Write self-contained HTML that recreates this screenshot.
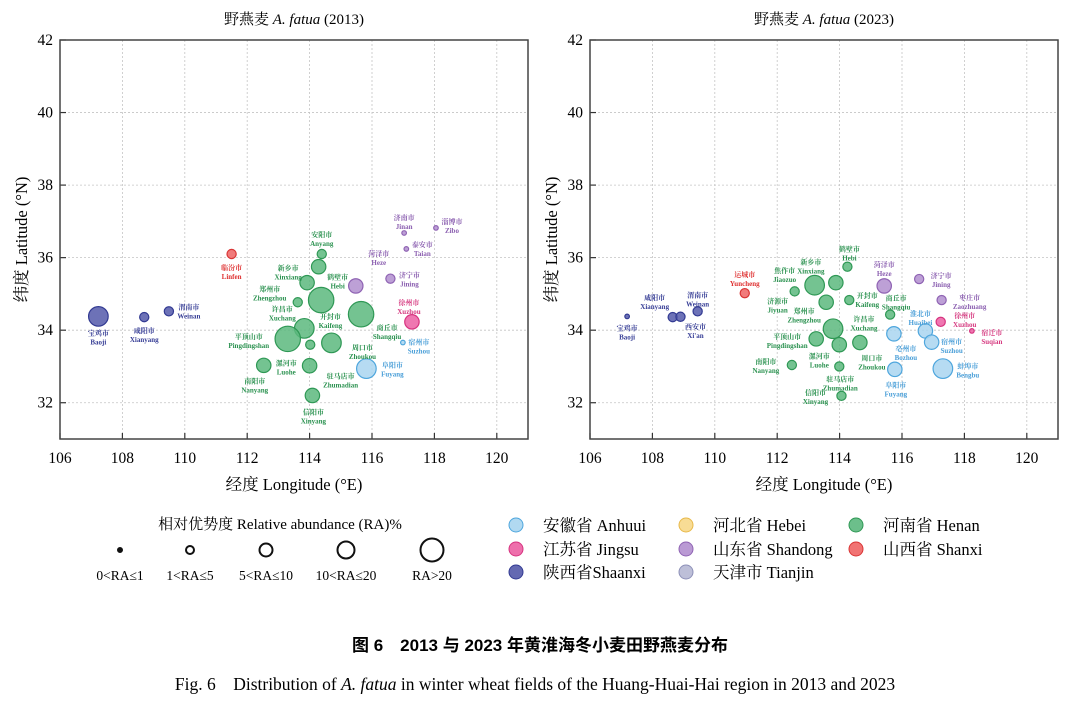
<!DOCTYPE html>
<html><head><meta charset="utf-8">
<style>
html,body{margin:0;padding:0;background:#fff;}
svg{display:block;}
</style></head>
<body>
<svg id="fig" width="1080" height="708" viewBox="0 0 1080 708" xmlns="http://www.w3.org/2000/svg" font-family="Liberation Serif, Noto Serif CJK SC, serif">
<g id="p2013"></g>
<g id="p2023"></g>
<g id="legend"></g>
<text x="540" y="651" text-anchor="middle" font-size="17" font-weight="bold" font-family="Liberation Sans, Noto Sans CJK SC, sans-serif">图 6　2013 与 2023 年黄淮海冬小麦田野燕麦分布</text>
<text x="535" y="690" text-anchor="middle" font-size="17.5">Fig. 6　Distribution of <tspan font-style="italic">A. fatua</tspan> in winter wheat fields of the Huang-Huai-Hai region in 2013 and 2023</text>
</svg>
<script>
// data: [lon, lat, sizeClass(1-5), province, cn, en]
var xTicks = [106,108,110,112,114,116,118,120];
var yTicks = [32,34,36,38,40,42];
var provinces = ['Anhui','Jiangsu','Hebei','Shandong','Shaanxi','Tianjin','Henan','Shanxi'];
var points2013 = [
 [107.23,34.38,4,'Shaanxi','宝鸡市','Baoji'],
 [108.70,34.36,2,'Shaanxi','咸阳市','Xianyang'],
 [109.49,34.52,2,'Shaanxi','渭南市','Weinan'],
 [111.50,36.10,2,'Shanxi','临汾市','Linfen'],
 [114.39,36.10,2,'Henan','安阳市','Anyang'],
 [114.29,35.75,3,'Henan','鹤壁市','Hebi'],
 [113.92,35.31,3,'Henan','新乡市','Xinxiang'],
 [113.62,34.77,2,'Henan','郑州市','Zhengzhou'],
 [114.37,34.83,5,'Henan','',''],
 [113.83,34.05,4,'Henan','许昌市','Xuchang'],
 [113.30,33.76,5,'Henan','平顶山市','Pingdingshan'],
 [114.02,33.60,2,'Henan','漯河市','Luohe'],
 [114.70,33.65,4,'Henan','开封市','Kaifeng'],
 [115.65,34.44,5,'Henan','商丘市','Shangqiu'],
 [115.48,35.22,3,'Shandong','菏泽市','Heze'],
 [116.59,35.42,2,'Shandong','济宁市','Jining'],
 [117.03,36.68,1,'Shandong','济南市','Jinan'],
 [118.05,36.82,1,'Shandong','淄博市','Zibo'],
 [117.10,36.24,1,'Shandong','泰安市','Taian'],
 [117.28,34.23,3,'Jiangsu','徐州市','Xuzhou'],
 [116.99,33.66,1,'Anhui','宿州市','Suzhou'],
 [115.82,32.94,4,'Anhui','阜阳市','Fuyang'],
 [114.00,33.02,3,'Henan','驻马店市','Zhumadian'],
 [112.53,33.03,3,'Henan','南阳市','Nanyang'],
 [114.09,32.20,3,'Henan','信阳市','Xinyang'],
 [114.70,33.65,0,'Henan','周口市','Zhoukou']
];
var labelOff2013 = [[0,20],[0,17],[20,-1],[0,17],[0,-16],[19,14],[-19,-11],[-28,-10],[0,0],[-22,-16],[-39,1],[-24,22],[-1,-23],[26,17],[23,-29],[19,0],[0,-12],[16,-3],[16,-1],[-3,-16],[16,3],[26,0],[31,14],[-9,19],[1,20],[31,8]];
var points2023 = [
 [107.19,34.38,1,'Shaanxi','宝鸡市','Baoji'],
 [108.65,34.36,2,'Shaanxi','咸阳市','Xianyang'],
 [108.90,34.37,2,'Shaanxi','西安市',"Xi'an"],
 [109.45,34.52,2,'Shaanxi','渭南市','Weinan'],
 [110.96,35.02,2,'Shanxi','运城市','Yuncheng'],
 [114.25,35.75,2,'Henan','鹤壁市','Hebi'],
 [113.88,35.31,3,'Henan','新乡市','Xinxiang'],
 [113.20,35.24,4,'Henan','焦作市','Jiaozuo'],
 [112.56,35.07,2,'Henan','济源市','Jiyuan'],
 [113.57,34.77,3,'Henan','郑州市','Zhengzhou'],
 [114.31,34.83,2,'Henan','开封市','Kaifeng'],
 [113.79,34.04,4,'Henan','许昌市','Xuchang'],
 [113.25,33.76,3,'Henan','平顶山市','Pingdingshan'],
 [113.99,33.60,3,'Henan','漯河市','Luohe'],
 [114.65,33.66,3,'Henan','周口市','Zhoukou'],
 [112.47,33.04,2,'Henan','南阳市','Nanyang'],
 [113.99,33.00,2,'Henan','驻马店市','Zhumadian'],
 [114.06,32.19,2,'Henan','信阳市','Xinyang'],
 [115.43,35.22,3,'Shandong','菏泽市','Heze'],
 [116.55,35.41,2,'Shandong','济宁市','Jining'],
 [115.62,34.43,2,'Henan','商丘市','Shangqiu'],
 [117.27,34.83,2,'Shandong','枣庄市','Zaozhuang'],
 [117.24,34.23,2,'Jiangsu','徐州市','Xuzhou'],
 [118.24,33.98,1,'Jiangsu','宿迁市','Suqian'],
 [116.75,33.98,3,'Anhui','淮北市','Huaibei'],
 [116.95,33.67,3,'Anhui','宿州市','Suzhou'],
 [115.74,33.90,3,'Anhui','亳州市','Bozhou'],
 [115.77,32.92,3,'Anhui','阜阳市','Fuyang'],
 [117.31,32.94,4,'Anhui','蚌埠市','Bengbu']
];
var labelOff2023 = [[0,15],[-18,-16],[15,13],[0,-13],[0,-15],[2,-14],[-25,-17],[-30,-11],[-17,13],[-22,12],[18,-1],[31,-6],[-29,1],[-20,15],[12,19],[-26,0],[1,16],[-26,0],[0,-18],[22,0],[6,-13],[28,1],[24,-3],[20,5],[-5,-14],[20,3],[12,18],[1,19],[25,1]];
var sizeR = [0,2.3,4.6,7.2,9.8,12.7];
var fills = {Anhui:'#a9d5f0',Jiangsu:'#ec5fa3',Hebei:'#f7d88a',Henan:'#5cb87e',Shandong:'#b28fcf',Shaanxi:'#5359aa',Tianjin:'#b6b8d4',Shanxi:'#ef6464'};
var strokes = {Anhui:'#4ea6dd',Jiangsu:'#d6337f',Hebei:'#e8b94a',Henan:'#2f9855',Shandong:'#8f63b3',Shaanxi:'#323a92',Tianjin:'#8d90b8',Shanxi:'#d93535'};
var textCol = {Anhui:'#4a9fd8',Jiangsu:'#d63a80',Henan:'#2b9250',Shandong:'#8b5fb0',Shaanxi:'#373e96',Shanxi:'#de3030',Hebei:'#d9a93c',Tianjin:'#888'};
var NS='http://www.w3.org/2000/svg';
function mk(tag,attrs,parent){var e=document.createElementNS(NS,tag);for(var k in attrs)e.setAttribute(k,attrs[k]);parent.appendChild(e);return e;}
function drawPlot(g, ox, year, pts, offs){
  var L=ox, R=ox+468, T=40, B=439;
  function sx(v){return L+(v-106)/(121-106)*(R-L);}
  function sy(v){return T+(42-v)/(42-31)*(B-T);}
  var t=mk('text',{x:(L+R)/2,y:24,'text-anchor':'middle','font-size':15},g);
  
  
  t.innerHTML='野燕麦 <tspan font-style="italic">A. fatua</tspan> ('+year+')';
  xTicks.forEach(function(v){
    var x=sx(v);
    var gl=mk('line',{x1:x,x2:x,y1:T,y2:B,stroke:'#c4c4c4','stroke-dasharray':'2,2','stroke-width':0.8},g);
    
    
    mk('line',{x1:x,x2:x,y1:B,y2:B-6,stroke:'#333','stroke-width':1.2},g);
    var lb=mk('text',{x:x,y:B+24,'text-anchor':'middle','font-size':15.5},g);
    
    
    lb.textContent=v;
  });
  yTicks.forEach(function(v){
    var y=sy(v);
    var gl=mk('line',{x1:L,x2:R,y1:y,y2:y,stroke:'#c4c4c4','stroke-dasharray':'2,2','stroke-width':0.8},g);
    
    
    mk('line',{x1:L,x2:L+6,y1:y,y2:y,stroke:'#333','stroke-width':1.2},g);
    var lb=mk('text',{x:L-7,y:y+5,'text-anchor':'end','font-size':15.5},g);
    
    
    lb.textContent=v;
  });
  var fr=mk('rect',{x:L,y:T,width:R-L,height:B-T,fill:'none',stroke:'#444','stroke-width':1.5},g);
  
  
  var xt=mk('text',{x:(L+R)/2,y:490,'text-anchor':'middle','font-size':16.5},g);
  
  
  xt.textContent='经度 Longitude (°E)';
  var yt=mk('text',{x:0,y:0,'text-anchor':'middle','font-size':16.5,transform:'translate('+(L-33)+','+((T+B)/2)+') rotate(-90)'},g);
  
  
  yt.textContent='纬度 Latitude (°N)';
  pts.forEach(function(p,i){
    var cx=sx(p[0]), cy=sy(p[1]);
    if(p[2]>0){
      var c=mk('circle',{cx:cx,cy:cy,r:sizeR[p[2]],fill:fills[p[3]],'fill-opacity':0.85,stroke:strokes[p[3]],'stroke-width':1.2},g);
      
      
    }
    if(p[4]){
      var o=offs[i];
      var tx=mk('text',{x:cx+o[0],y:cy+o[1]-1,'text-anchor':'middle','font-size':7,'font-weight':'bold',fill:textCol[p[3]]},g);
      
      
      tx.innerHTML='<tspan x="'+(cx+o[0])+'">'+p[4]+'</tspan><tspan x="'+(cx+o[0])+'" dy="9">'+p[5]+'</tspan>';
    }
  });
}
drawPlot(document.getElementById('p2013'),60,'2013',points2013,labelOff2013);
drawPlot(document.getElementById('p2023'),590,'2023',points2023,labelOff2023);

// legend
var lg=document.getElementById('legend');
var raLabels=['0<RA≤1','1<RA≤5','5<RA≤10','10<RA≤20','RA>20'];
var raX=[120,190,266,346,432];
var raR=[2,4,6.5,8.5,11.5];
var lt=mk('text',{x:280,y:529,'text-anchor':'middle','font-size':15},lg);


lt.textContent='相对优势度 Relative abundance (RA)%';
raLabels.forEach(function(s,i){
  var c=mk('circle',{cx:raX[i],cy:550,r:raR[i],fill:i==0?'#111':'none',stroke:'#111','stroke-width':2},lg);
  
  
  var t=mk('text',{x:raX[i],y:580,'text-anchor':'middle','font-size':13.5},lg);
  
  
  t.textContent=s;
});
var provLegend=[['Anhui','安徽省 Anhuui',516,525],['Hebei','河北省 Hebei',686,525],['Henan','河南省 Henan',856,525],
 ['Jiangsu','江苏省 Jingsu',516,549],['Shandong','山东省 Shandong',686,549],['Shanxi','山西省 Shanxi',856,549],
 ['Shaanxi','陕西省Shaanxi',516,572],['Tianjin','天津市 Tianjin',686,572]];
provLegend.forEach(function(p){
  var c=mk('circle',{cx:p[2],cy:p[3],r:7,fill:fills[p[0]],stroke:strokes[p[0]],'stroke-width':1,'fill-opacity':0.9},lg);
  
  
  var t=mk('text',{x:p[2]+27,y:p[3]+6,'font-size':16.5},lg);
  
  
  t.textContent=p[1];
});
</script>
</body></html>
